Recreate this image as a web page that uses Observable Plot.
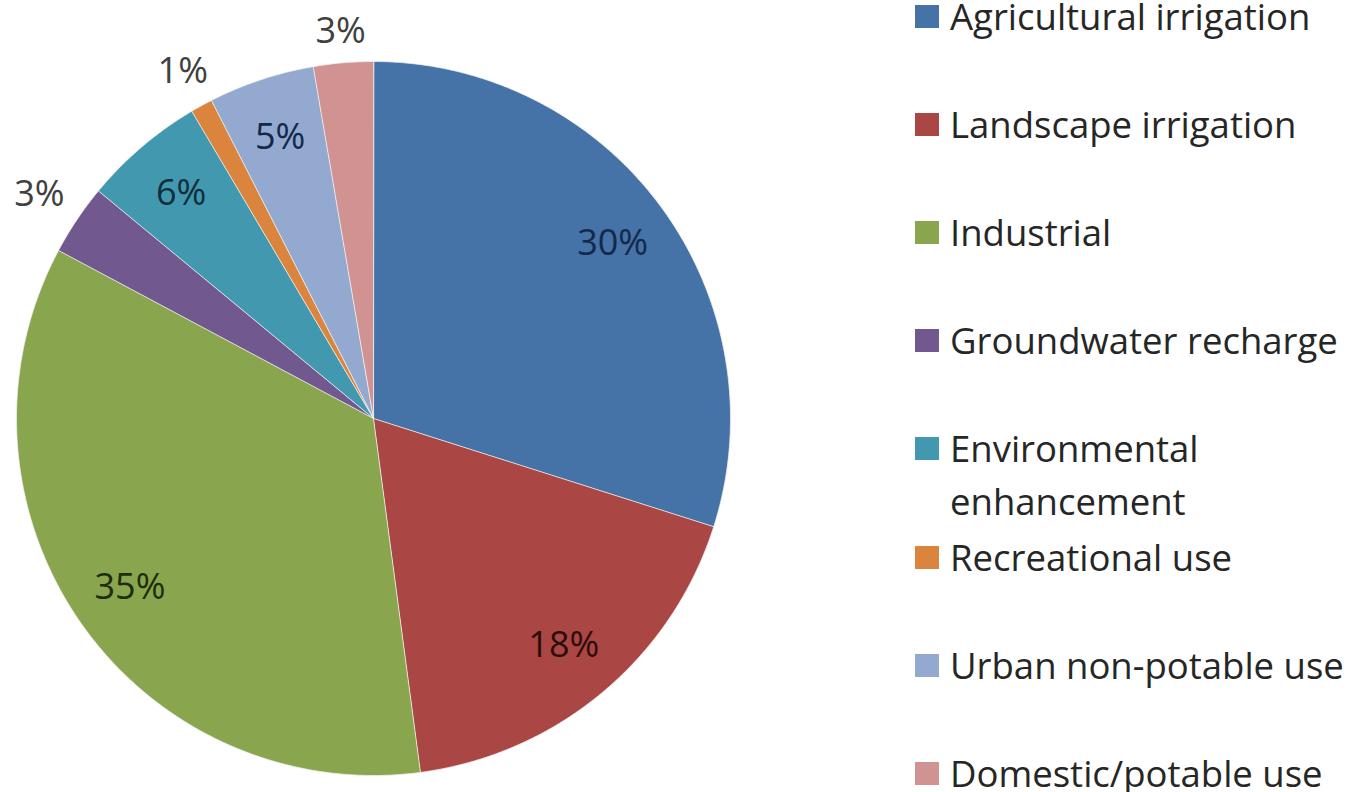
<!DOCTYPE html>
<html>
<head>
<meta charset="utf-8">
<script src="https://cdn.jsdelivr.net/npm/d3@7"></script>
<script src="https://cdn.jsdelivr.net/npm/@observablehq/plot@0.6"></script>
<style>
  html, body { margin: 0; padding: 0; background: #fff; }
  #wrap { position: relative; width: 1359px; height: 792px; overflow: hidden; font-family: "Open Sans", sans-serif; }
  #legend { position: absolute; left: 915px; top: 0; }
  .item { position: absolute; left: 0; width: 440px; display: flex; align-items: flex-start; }
  .sw { width: 24px; height: 23px; flex: none; margin-top: 4px; margin-right: 11px; }
  .lab { font-size: 36.5px; color: #262626; white-space: nowrap; }
  .line { height: 30px; line-height: 30px; }
  .line + .line { margin-top: 23px; }
</style>
</head>
<body>
<div id="wrap"><div id="chart"></div><div id="legend"></div></div>
<script>
const categories = ["Agricultural irrigation", "Landscape irrigation", "Industrial", "Groundwater recharge",
  "Environmental\nenhancement", "Recreational use", "Urban non-potable use", "Domestic/potable use"];
const values = [29.9, 18.0, 34.9, 3.2, 5.5, 1.0, 4.8, 2.7];
const labels = ["30%", "18%", "35%", "3%", "6%", "1%", "5%", "3%"];
const colors = ["#4572A7", "#AA4643", "#89A54E", "#71588F", "#4198AF", "#DB843D", "#93A9CF", "#D19392"];
const labelColors = ["#14294a", "#2e0c0c", "#1e2e0c", "#404040", "#0f2e3a", "#404040", "#14294a", "#404040"];
const labelOutside = [false, false, false, true, false, true, false, true];

const arcs = d3.pie().sort(null).value(d => d)(values);

// slice outlines (center + arc sampled along the circle)
const pts = [];
arcs.forEach((a, i) => {
  pts.push({i, x: 0, y: 0});
  const n = Math.max(4, Math.ceil((a.endAngle - a.startAngle) / (Math.PI / 360)));
  for (let k = 0; k <= n; k++) {
    const t = a.startAngle + (a.endAngle - a.startAngle) * k / n;
    pts.push({i, x: Math.sin(t), y: Math.cos(t)});
  }
});

const labelData = arcs.map((a, i) => {
  const m = (a.startAngle + a.endAngle) / 2;
  // outside labels sit just beyond the rim, pushed out a little more where text runs sideways
  const r = labelOutside[i] ? 1.085 + 0.05 * Math.abs(Math.sin(m)) : 0.83;
  return {i, x: r * Math.sin(m), y: r * Math.cos(m), text: labels[i]};
});

const chart = Plot.plot({
  width: 1359,
  height: 792,
  margin: 0,
  x: {domain: [-1, 1], range: [16, 730], axis: null},
  y: {domain: [-1, 1], range: [775, 61], axis: null},
  color: {type: "identity"},
  style: {background: "transparent", fontFamily: "Open Sans, sans-serif"},
  marks: [
    Plot.line(pts, {x: "x", y: "y", z: "i", fill: d => colors[d.i], stroke: "#f2f2f2", strokeWidth: 1, strokeOpacity: 0.75, curve: "linear-closed"}),
    Plot.text(labelData, {x: "x", y: "y", text: "text", fill: d => labelColors[d.i], fontSize: 36, fontFamily: "Open Sans, sans-serif"})
  ]
});
document.getElementById("chart").appendChild(chart);

const legend = document.getElementById("legend");
categories.forEach((c, i) => {
  const item = document.createElement("div");
  item.className = "item";
  item.style.top = (16 + i * 108.1 - 15) + "px";
  const sw = document.createElement("div");
  sw.className = "sw";
  sw.style.background = colors[i];
  const lab = document.createElement("div");
  lab.className = "lab";
  c.split("\n").forEach(t => {
    const ln = document.createElement("div");
    ln.className = "line";
    ln.textContent = t;
    lab.appendChild(ln);
  });
  item.appendChild(sw);
  item.appendChild(lab);
  legend.appendChild(item);
});
</script>
</body>
</html>
